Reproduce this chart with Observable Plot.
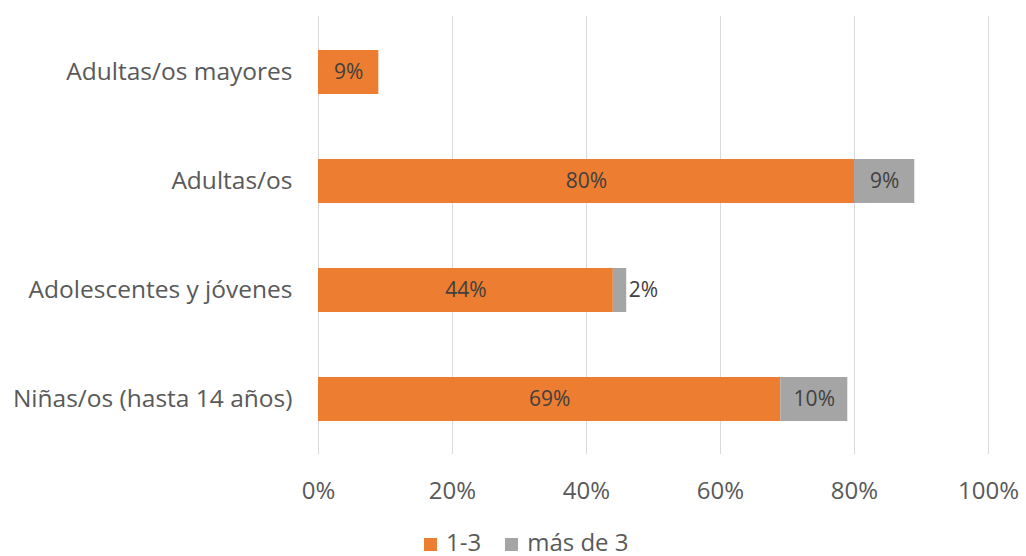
<!DOCTYPE html>
<html>
<head>
<meta charset="utf-8">
<script src="https://cdn.jsdelivr.net/npm/d3@7"></script>
<script src="https://cdn.jsdelivr.net/npm/@observablehq/plot@0.6"></script>
<style>
  html, body { margin: 0; padding: 0; background: #fff; }
  body { width: 1026px; height: 556px; overflow: hidden; font-family: "Open Sans", sans-serif; position: relative; }
  #legend { position: absolute; left: 0; top: 530px; height: 24px; width: 1026px; display: flex; align-items: center; font-size: 24px; color: #595959; box-sizing: border-box; }
  #legend .item { display: flex; align-items: center; height: 24px; }
  #legend .sw { width: 13px; height: 13px; margin-right: 9px; margin-top: 4px; }
  #legend span { display: block; line-height: 24px; height: 24px; }
</style>
</head>
<body>
<div id="chart"></div>
<div id="legend"></div>
<script>
const categories = ["Adultas/os mayores", "Adultas/os", "Adolescentes y jóvenes", "Niñas/os (hasta 14 años)"];
const seriesNames = ["1-3", "más de 3"];
const values13 = [9, 80, 44, 69];
const valuesMas3 = [0, 9, 2, 10];
const xTicks = [0, 20, 40, 60, 80, 100];
const colors = ["#ED7D31", "#A5A5A5"];

const data = [];
categories.forEach((c, i) => {
  data.push({group: c, series: seriesNames[0], value: values13[i]});
  data.push({group: c, series: seriesNames[1], value: valuesMas3[i]});
});

const fontFamily = "'Open Sans', sans-serif";

const chart = Plot.plot({
  width: 1026,
  height: 522,
  marginLeft: 318,
  marginRight: 38,
  marginTop: 16,
  marginBottom: 68,
  style: {fontFamily, background: "#fff"},
  x: {domain: [0, 100], ticks: xTicks, tickFormat: d => d + "%", label: null},
  y: {domain: categories, label: null, paddingInner: 0.6, paddingOuter: 0.3},
  color: {domain: seriesNames, range: colors},
  marks: [
    Plot.gridX(xTicks, {stroke: "#d9d9d9", strokeOpacity: 1, strokeWidth: 1}),
    Plot.axisX({ticks: xTicks, tickSize: 0, tickPadding: 27, fontSize: 24, fill: "#595959", tickFormat: d => d + "%", label: null}),
    Plot.axisY({tickSize: 0, tickPadding: 26, fontSize: 24.5, fill: "#595959", label: null}),
    Plot.barX(data, Plot.stackX({x: "value", y: "group", z: "series", fill: "series", order: seriesNames})),
    Plot.textX(data, Plot.stackX({x: "value", y: "group", z: "series", order: seriesNames,
      text: d => d.value >= 5 ? d.value + "%" : "", fill: "#404040", fontSize: 21})),
    Plot.textX(data, Plot.stackX2({x: "value", y: "group", z: "series", order: seriesNames,
      text: d => (d.value > 0 && d.value < 5) ? d.value + "%" : "", fill: "#404040", fontSize: 21, textAnchor: "start", dx: 2}))
  ]
});
document.getElementById("chart").appendChild(chart);

const legend = document.getElementById("legend");
legend.style.paddingLeft = "424px";
seriesNames.forEach((s, i) => {
  const item = document.createElement("div");
  item.className = "item";
  item.style.marginRight = i === 0 ? "24px" : "0";
  const sw = document.createElement("div");
  sw.className = "sw";
  sw.style.background = colors[i];
  const t = document.createElement("span");
  t.textContent = s;
  item.appendChild(sw);
  item.appendChild(t);
  legend.appendChild(item);
});
</script>
</body>
</html>
